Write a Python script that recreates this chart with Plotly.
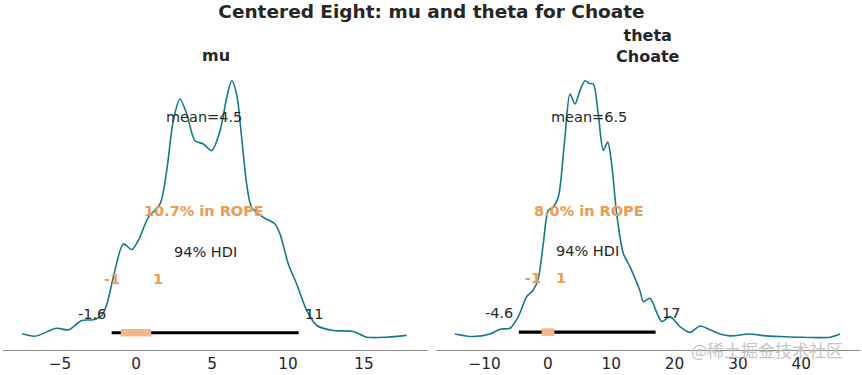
import plotly.graph_objects as go

# ---------------- data ----------------
mu_x = [-7.48, -6.64, -5.22, -4.45, -3.57, -2.81, -2.24, -1.91, -1.49, -0.83, -0.28, 0.15,
        0.81, 1.58, 2.02, 2.45, 2.89, 3.34, 3.88, 4.43, 4.98, 5.53, 5.97, 6.30, 6.62, 6.95,
        7.28, 7.61, 8.38, 9.14, 9.47, 10.02, 10.57, 11.23, 11.89, 12.99, 14.30, 15.18, 16.49, 17.80]
mu_d = [0.0022, 0.0010, 0.0050, 0.0042, 0.0089, 0.0093, 0.0115, 0.0174, 0.0308, 0.0476, 0.0448, 0.0493,
        0.0610, 0.0678, 0.0846, 0.1098, 0.1208, 0.1132, 0.0997, 0.0981, 0.0947, 0.1048, 0.1216, 0.1300,
        0.1233, 0.1014, 0.0779, 0.0661, 0.0610, 0.0577, 0.0527, 0.0375, 0.0274, 0.0140, 0.0064, 0.0039,
        0.0034, 0.0005, 0.0005, 0.0014]

theta_x = [-14.69, -11.80, -9.16, -7.58, -6.00, -4.69, -3.37, -2.32, -1.53, -0.74, 0.05, 0.83, 1.63,
           2.68, 3.48, 4.26, 5.05, 5.85, 6.52, 7.16, 7.94, 8.74, 9.43, 10.06, 10.85, 11.90, 12.96,
           14.54, 15.06, 16.11, 17.96, 19.28, 20.85, 22.43, 24.02, 25.59, 27.17, 28.75, 31.91, 34.02,
           36.65, 39.29, 44.55, 46.14]
theta_d = [0.0011, 0.0003, 0.0011, 0.0026, 0.0029, 0.0065, 0.0127, 0.0148, 0.0184, 0.0293, 0.0396,
           0.0407, 0.0438, 0.0624, 0.0759, 0.0728, 0.0769, 0.0800, 0.0792, 0.0790, 0.0697, 0.0583,
           0.0609, 0.0541, 0.0386, 0.0262, 0.0220, 0.0145, 0.0112, 0.0122, 0.0050, 0.0065, 0.0034,
           0.0016, 0.0036, 0.0024, 0.0011, 0.0005, 0.0011, 0.0006, 0.0003, 0.0001, 0.0001, 0.0011]

panel_titles = ["mu", "theta<br>Choate"]
means = [4.5, 6.5]
hdis = [(-1.6, 10.7), (-4.6, 17.0)]
hdi_labels = [("-1.6", "11"), ("-4.6", "17")]
rope = (-1, 1)
rope_pct = ["10.7% in ROPE", "8.0% in ROPE"]
hdi_prob_label = "94% HDI"
ticks = [[-5, 0, 5, 10, 15], [-10, 0, 10, 20, 30, 40]]
title = "Centered Eight: mu and theta for Choate"

# ---------------- style ----------------
CURVE = "#16788c"
ORANGE = "#ee9a52"
ROPE_FILL = "#f3b58c"
TXT = "#262626"
FONT = "DejaVu Sans"

W, Hpx = 862, 375
ml, mr, mt, mb = 3, 2, 68, 25
pw = W - ml - mr
doms = [[0, (428 - ml) / pw], [(436 - ml) / pw, 1]]
xranges = [[-8.75, 19.21], [-17.69, 49.29]]

fig = go.Figure()
series = [(mu_x, mu_d), (theta_x, theta_d)]
annots = []
for i, (xs, ds) in enumerate(series):
    xa = "x" if i == 0 else "x2"
    ya = "y" if i == 0 else "y2"
    dmin, dmax = min(ds), max(ds)
    R = dmax - dmin
    ylo, yhi = dmin - 0.05 * R, dmax + 0.05 * R
    ph = yhi
    fig.add_trace(go.Scatter(x=xs, y=ds, mode="lines", line=dict(color=CURVE, width=1.6, shape="spline", smoothing=0.8),
                             xaxis=xa, yaxis=ya, showlegend=False, hoverinfo="skip"))
    # HDI line
    fig.add_trace(go.Scatter(x=list(hdis[i]), y=[ph * 0.02, ph * 0.02], mode="lines",
                             line=dict(color="black", width=3.2), xaxis=xa, yaxis=ya, showlegend=False, hoverinfo="skip"))
    # ROPE box
    fig.add_trace(go.Scatter(x=list(rope), y=[ph * 0.02, ph * 0.02], mode="lines",
                             line=dict(color=ROPE_FILL, width=7.5), xaxis=xa, yaxis=ya, showlegend=False, hoverinfo="skip"))
    axn = "" if i == 0 else "2"
    fig.update_layout(**{
        f"xaxis{axn}": dict(domain=doms[i], range=xranges[i], tickvals=ticks[i], showgrid=False, zeroline=False,
                            showline=True, linecolor="#8c8c8c", linewidth=1, ticks="",
                            tickfont=dict(family=FONT, size=15.3, color=TXT), anchor=ya),
        f"yaxis{axn}": dict(domain=[0, 1], range=[ylo, yhi], visible=False, anchor=xa),
    })
    fsz = 14.5
    annots += [
        dict(x=means[i], y=ph * 0.82, xref=xa, yref=ya, text=f"mean={means[i]}", showarrow=False,
             font=dict(family=FONT, size=fsz, color=TXT), xanchor="center", yanchor="middle"),
        dict(x=means[i], y=ph * 0.47, xref=xa, yref=ya, text=f"<b>{rope_pct[i]}</b>", showarrow=False,
             font=dict(family=FONT, size=fsz, color=ORANGE), xanchor="center", yanchor="middle"),
        dict(x=(hdis[i][0] + hdis[i][1]) / 2, y=ph * 0.32, xref=xa, yref=ya, text=hdi_prob_label, showarrow=False,
             font=dict(family=FONT, size=fsz, color=TXT), xanchor="center", yanchor="middle"),
        dict(x=rope[0], y=ph * 0.22, xref=xa, yref=ya, text=f"<b>{rope[0]}</b>", showarrow=False,
             font=dict(family=FONT, size=fsz, color=ORANGE), xanchor="right", yanchor="middle", xshift=1),
        dict(x=rope[1], y=ph * 0.22, xref=xa, yref=ya, text=f"<b>{rope[1]}</b>", showarrow=False,
             font=dict(family=FONT, size=fsz, color=ORANGE), xanchor="left", yanchor="middle", xshift=0),
        dict(x=hdis[i][0], y=ph * 0.09, xref=xa, yref=ya, text=hdi_labels[i][0], showarrow=False,
             font=dict(family=FONT, size=fsz, color=TXT), xanchor="right", yanchor="middle", xshift=-4),
        dict(x=hdis[i][1], y=ph * 0.09, xref=xa, yref=ya, text=hdi_labels[i][1], showarrow=False,
             font=dict(family=FONT, size=fsz, color=TXT), xanchor="left", yanchor="middle", xshift=4),
        dict(x=(doms[i][0] + doms[i][1]) / 2, y=1, xref="paper", yref="paper", text=f"<b>{panel_titles[i]}</b>",
             showarrow=False, font=dict(family=FONT, size=16, color=TXT), xanchor="center", yanchor="bottom",
             yshift=1 if i == 0 else 0),
    ]

annots.append(dict(x=(767 - ml) / pw, y=(Hpx - mb - 349) / (Hpx - mt - mb), xref="paper", yref="paper",
                   text="@稀土掘金技术社区", showarrow=False,
                   font=dict(family="Noto Sans CJK SC", size=17, color="#c4c4c4"), xanchor="center", yanchor="middle"))

fig.update_layout(
    width=W, height=Hpx, margin=dict(l=ml, r=mr, t=mt, b=mb),
    paper_bgcolor="white", plot_bgcolor="white",
    title=dict(text=f"<b>{title}</b>", x=0.5, xref="paper", y=1 - 12 / Hpx, yref="container",
               xanchor="center", yanchor="middle", font=dict(family=FONT, size=18.5, color=TXT)),
    annotations=annots,
)
fig.write_html("out.html", config={"displayModeBar": False},
               post_script="document.body.style.margin='0px';")
